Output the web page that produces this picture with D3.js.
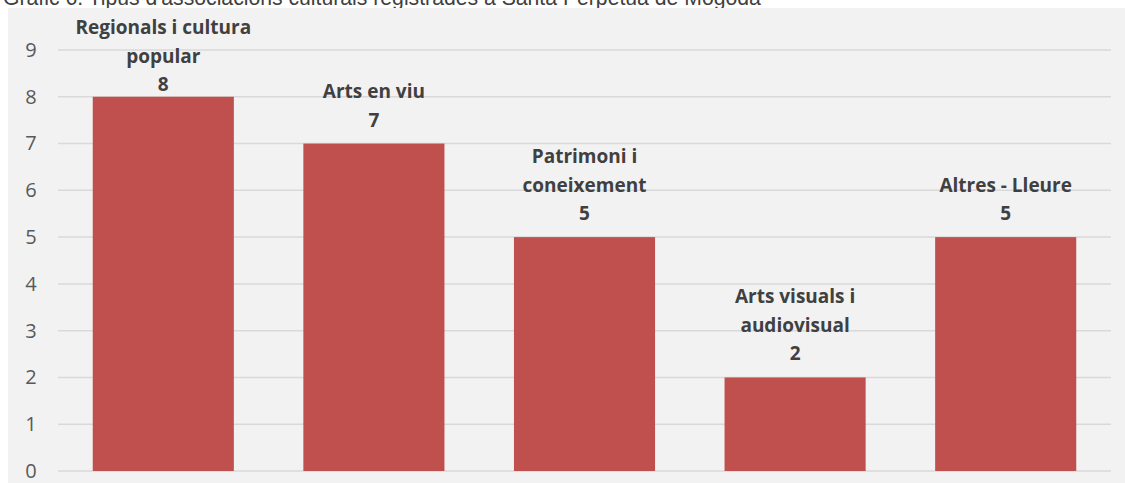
<!DOCTYPE html>
<html>
<head>
<meta charset="utf-8">
<script src="https://cdn.jsdelivr.net/npm/d3@7"></script>
<style>
  body { margin: 0; background: #ffffff; }
  svg { display: block; }
</style>
</head>
<body>
<svg id="chart"></svg>
<script>
var width = 1125;
var height = 483;

var title = "Gràfic 6. Tipus d'associacions culturals registrades a Santa Perpètua de Mogoda";
var categories = [
    ["Regionals i cultura", "popular"],
    ["Arts en viu"],
    ["Patrimoni i", "coneixement"],
    ["Arts visuals i", "audiovisual"],
    ["Altres - Lleure"]
];
var values = [8, 7, 5, 2, 5];
var y_ticks = [0, 1, 2, 3, 4, 5, 6, 7, 8, 9];

let svg = d3.select("#chart").attr("width", width).attr("height", height);

// title sits mostly above the picture, only its lower half shows
svg.append("text")
    .attr("x", 3).attr("y", 5)
    .style("font-family", "'Liberation Sans', Arial, sans-serif")
    .style("font-size", "21.2px")
    .attr("fill", "#404040")
    .text(title);

// chart area background
svg.append("rect")
    .attr("x", 8).attr("y", 8)
    .attr("width", width - 8).attr("height", height - 8)
    .attr("fill", "#f2f2f2");

let x = d3.scaleBand()
    .domain(d3.range(values.length))
    .range([58, 1111])
    .paddingInner(0.33)
    .paddingOuter(0.165);

let y = d3.scaleLinear().domain([0, 9]).range([471, 50]);

// gridlines
svg.selectAll(".grid")
    .data(y_ticks)
    .join("line")
    .attr("class", "grid")
    .attr("x1", 58).attr("x2", 1111)
    .attr("y1", d => y(d)).attr("y2", d => y(d))
    .attr("stroke", "#d9d9d9")
    .attr("stroke-width", 1.5);

// y axis labels
let yAxis = svg.append("g")
    .attr("transform", "translate(38,0)")
    .call(d3.axisLeft(y).tickValues(y_ticks).tickSize(0).tickPadding(0));
yAxis.select(".domain").remove();
yAxis.selectAll("text")
    .attr("x", -7)
    .attr("text-anchor", "middle")
    .style("font-family", "'Open Sans', sans-serif")
    .style("font-size", "20px")
    .attr("fill", "#595959");

// bars
svg.selectAll(".bar")
    .data(values)
    .join("rect")
    .attr("class", "bar")
    .attr("x", (d, i) => x(i))
    .attr("y", d => y(d))
    .attr("width", x.bandwidth())
    .attr("height", d => y(0) - y(d))
    .attr("fill", "#c0504d");

// data labels: category lines + value, pushed down if they'd leave the chart
let labels = svg.selectAll(".label")
    .data(values)
    .join("text")
    .attr("class", "label")
    .attr("text-anchor", "middle")
    .style("font-family", "'Open Sans', sans-serif")
    .style("font-weight", "bold")
    .style("font-size", "19px")
    .attr("fill", "#404040");

let line_gap = 28.5;
labels.each(function(d, i){
    let lines = categories[i].concat([String(d)]);
    let cx = x(i) + x.bandwidth() / 2;
    let base = y(d) - 17;
    let top = base - (lines.length - 1) * line_gap;
    if(top < 34){
        base += 34 - top;
    }
    lines.forEach((t, j) => {
        d3.select(this).append("tspan")
            .attr("x", cx)
            .attr("y", base - (lines.length - 1 - j) * line_gap)
            .text(t);
    });
});
</script>
</body>
</html>
